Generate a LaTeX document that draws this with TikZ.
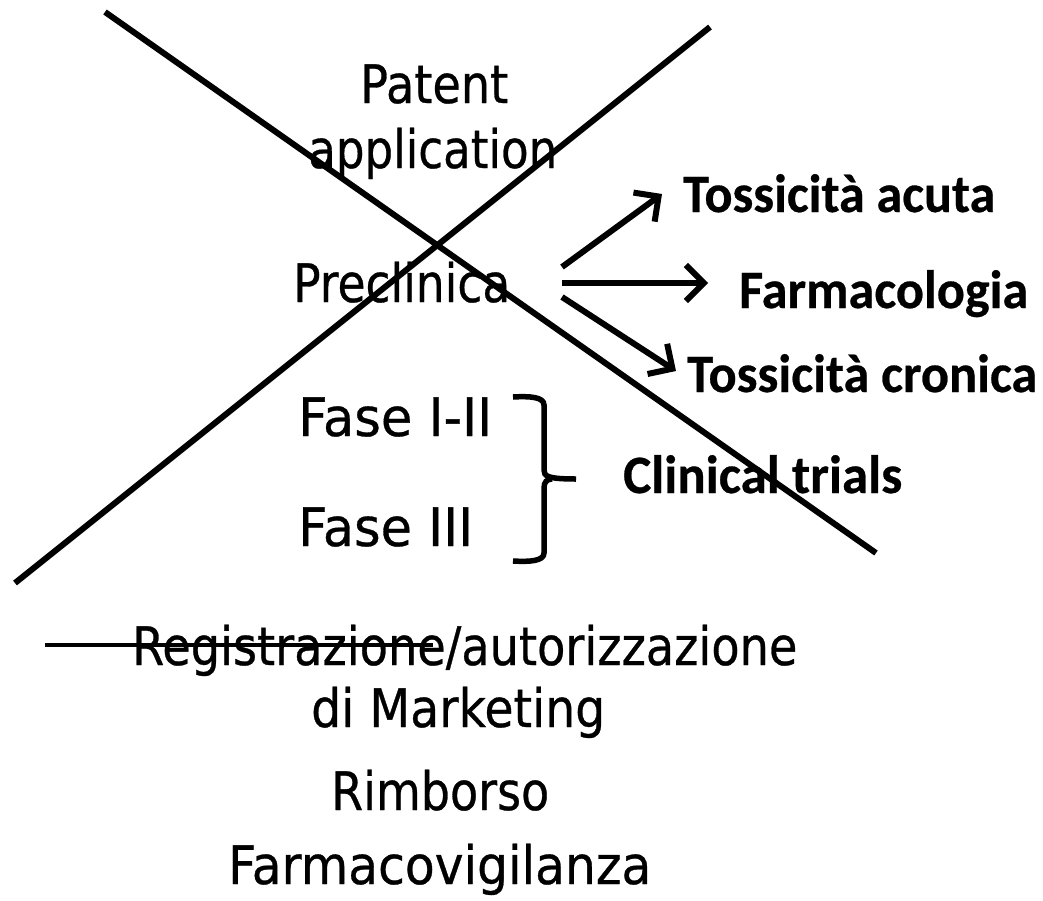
\documentclass[tikz,border=0pt]{standalone}
\usepackage{fontspec}
\usepackage{graphicx}
\setmainfont{DejaVu Sans}[FakeBold=0.6]
\newfontfamily\boldlab{Carlito}[BoldFont=Carlito Bold, BoldFeatures={FakeBold=0.5}]
\usetikzlibrary{arrows.meta}
\newcommand\fitw[2]{\resizebox{#1pt}{\height}{#2}}
\tikzset{
  reg/.style={inner sep=0pt, anchor=base west, font=\fontsize{53}{60}\selectfont},
  bld/.style={inner sep=0pt, anchor=base west, font=\boldlab\bfseries\fontsize{54}{60}\selectfont},
  cross/.style={line width=6pt},
  arr/.style={line width=6pt, -{Straight Barb[length=18pt,width=36pt]}},
  brace/.style={line width=5.5pt},
  strike/.style={line width=4.5pt}
}
\begin{document}
\begin{tikzpicture}[x=1pt,y=-1pt]
\useasboundingbox (0,0) rectangle (1043,900);
% text
\node[reg] (patent) at (360,103) {\fitw{148}{Patent}};
\node[reg] (appl) at (308,168) {\fitw{249}{application}};
\node[reg] (precl) at (293,302) {\fitw{217}{Preclinica}};
\node[reg] (f12) at (298,436) {\fitw{194}{Fase I-II}};
\node[reg] (f3) at (298,546) {\fitw{175}{Fase III}};
\node[bld] (tacuta) at (683,212) {\fitw{312}{Tossicità acuta}};
\node[bld] (farm) at (739,308) {\fitw{289}{Farmacologia}};
\node[bld] (tcron) at (687,392) {\fitw{350}{Tossicità cronica}};
\node[bld] (clin) at (623,493) {\fitw{279}{Clinical trials}};
\node[reg] (reg) at (132,665) {\fitw{665}{Registrazione/autorizzazione}};
\node[reg] (mkt) at (311,727) {\fitw{294}{di Marketing}};
\node[reg] (rimb) at (331,810) {\fitw{218}{Rimborso}};
\node[reg] (fv) at (228,884) {\fitw{423}{Farmacovigilanza}};
% cross lines
\coordinate (a1) at (105,12);
\coordinate (a2) at (876,553);
\coordinate (b1) at (710,27);
\coordinate (b2) at (15,583);
\draw[cross] (a1) -- (a2);
\draw[cross] (b1) -- (b2);
% arrows
\coordinate (s1) at (562,267);
\coordinate (s2) at (562,283);
\coordinate (s3) at (562,297);
\coordinate (t1) at (662,194);
\coordinate (t2) at (708,283);
\coordinate (t3) at (676,371);
\draw[arr] (s1) -- (t1);
\draw[arr] (s2) -- (t2);
\draw[arr] (s3) -- (t3);
% brace
\coordinate (br1) at (513,397);
\coordinate (br2) at (513,561);
\coordinate (brt) at (576,479);
\draw[brace] (br1) .. controls (530,396) and (544,397) .. (544,405) -- (544,470)
  .. controls (544,476) and (547,479) .. (brt);
\draw[brace] (br2) .. controls (530,562) and (544,561) .. (544,553) -- (544,488)
  .. controls (544,482) and (547,479) .. (552,479);
% strike
\coordinate (st1) at (45,645);
\coordinate (st2) at (433,645);
\draw[strike] (st1) -- (st2);
\end{tikzpicture}
\end{document}
